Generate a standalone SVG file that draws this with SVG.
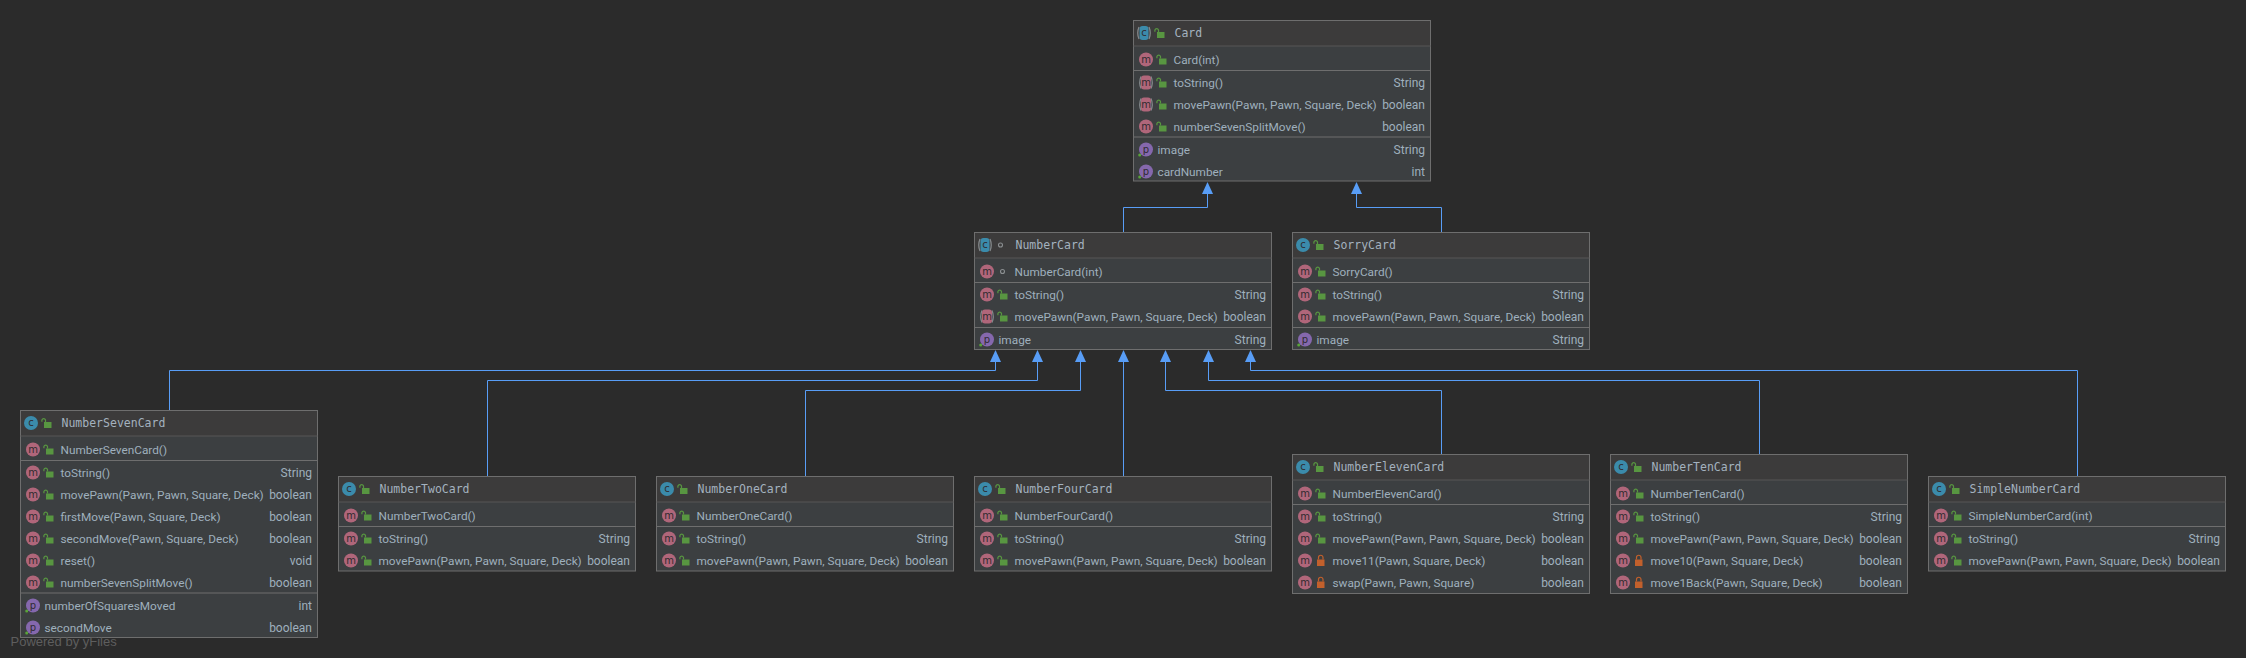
<svg xmlns="http://www.w3.org/2000/svg" width="2246" height="658" viewBox="0 0 2246 658">
<style>
.box{fill:#3c3f41;stroke:#6e6e6e;stroke-width:1}
.hd{fill:#3c3b3b}
.sep{stroke:#6e6e6e;stroke-width:1;fill:none}
.hs{stroke:#565656;stroke-width:1;fill:none}
.ti{font:11.5px "DejaVu Sans Mono",monospace;fill:#a4b2bf}
.t{font:11.8px Roboto,"Noto Sans",sans-serif;fill:#9fb0bd;transform:translateY(-1px)}
.r{font:12px Roboto,"Noto Sans",sans-serif;fill:#9fb0bd;text-anchor:end;transform:translateY(-1px)}
.ic{font:10px "DejaVu Sans",sans-serif;fill:#2f2b30;text-anchor:middle}
.ln{fill:none;stroke:#589df6;stroke-width:1;marker-end:url(#tri)}
.by{font:13px "Liberation Sans",Arial,sans-serif;fill:#5e5e5e}
use{transform:translateY(-.5px)}
</style>
<defs>
<marker id="tri" markerUnits="userSpaceOnUse" viewBox="0 0 12 11" markerWidth="12" markerHeight="11" refX="0" refY="5.5" orient="auto"><path d="M0 0L12 5.5L0 11z" fill="#589df6"/></marker>
<g id="c"><circle r="7" fill="#3b8bab"/><text class="ic" y="3.2">c</text></g>
<g id="ca"><path d="M-5 -6Q-7.5 0 -5 6M5 -6Q7.5 0 5 6" fill="none" stroke="#83888b" stroke-width="1.3"/><rect x="-4.5" y="-7" width="9" height="14" rx="3" fill="#3b8bab"/><text class="ic" y="3.2">c</text></g>
<g id="m"><circle r="7" fill="#b0667a"/><text class="ic" y="3">m</text></g>
<g id="ma"><path d="M-5 -6Q-7.5 0 -5 6M5 -6Q7.5 0 5 6" fill="none" stroke="#83888b" stroke-width="1.3"/><rect x="-5" y="-7" width="10" height="14" rx="3" fill="#b0667a"/><text class="ic" y="3">m</text></g>
<g id="p"><circle r="7" fill="#8568ad"/><text class="ic" y="3.2">p</text><circle cx="-6.3" cy="5.5" r="1.5" fill="#5aa539"/></g>
<g id="o"><rect x="-2.5" y="-1" width="7.5" height="6" fill="#589641"/><path d="M-1 -1V-3A1.9 1.9 0 0 0 -4.6 -3V-1.2" fill="none" stroke="#589641" stroke-width="1.2"/></g>
<g id="x"><rect x="-3.5" y="-1" width="7.5" height="6.5" fill="#c2602c"/><path d="M-2 -1V-3A2.2 2.2 0 0 1 2.5 -3V-1" fill="none" stroke="#c2602c" stroke-width="1.2"/></g>
<g id="k"><circle r="2" fill="none" stroke="#8b8f91" stroke-width="1.1"/></g>
</defs>
<rect width="2246" height="658" fill="#2b2b2b"/>
<g id="connectors">
<path class="ln" d="M1123.5 232V207.5H1207.5V194"/>
<path class="ln" d="M1441.5 232V207.5H1356.5V194"/>
<path class="ln" d="M169.5 410V370.5H995.5V362"/>
<path class="ln" d="M487.5 476V380.5H1037.5V362"/>
<path class="ln" d="M805.5 476V390.5H1080.5V362"/>
<path class="ln" d="M1123.5 476V362"/>
<path class="ln" d="M1441.5 454V390.5H1165.5V362"/>
<path class="ln" d="M1759.5 454V380.5H1208.5V362"/>
<path class="ln" d="M2077.5 476V370.5H1250.5V362"/>
</g>
<g id="Card" transform="translate(1133.5 20.5)">
<rect class="box" width="297" height="160.5"/><rect class="hd" x=".5" y=".5" width="296" height="25"/><path class="hs" d="M0 25.5H297"/><path class="sep" d="M0 50H297M0 116.5H297"/>
<use href="#ca" x="10.5" y="13"/><use href="#o" x="26" y="13"/><text class="ti" x="41" y="16.5">Card</text>
<use href="#m" x="12.5" y="39.5"/><use href="#o" x="28" y="39.5"/><text class="t" x="40" y="44">Card(int)</text>
<use href="#ma" x="12.5" y="62.5"/><use href="#o" x="28" y="62.5"/><text class="t" x="40" y="67">toString()</text><text class="r" x="291.5" y="67">String</text>
<use href="#ma" x="12.5" y="84.5"/><use href="#o" x="28" y="84.5"/><text class="t" x="40" y="89">movePawn(Pawn, Pawn, Square, Deck)</text><text class="r" x="291.5" y="89">boolean</text>
<use href="#m" x="12.5" y="106.5"/><use href="#o" x="28" y="106.5"/><text class="t" x="40" y="111">numberSevenSplitMove()</text><text class="r" x="291.5" y="111">boolean</text>
<use href="#p" x="12.5" y="129.5"/><text class="t" x="24" y="134">image</text><text class="r" x="291.5" y="134">String</text>
<use href="#p" x="12.5" y="151.5"/><text class="t" x="24" y="156">cardNumber</text><text class="r" x="291.5" y="156">int</text>
</g>
<g id="NumberCard" transform="translate(974.5 232.5)">
<rect class="box" width="297" height="117"/><rect class="hd" x=".5" y=".5" width="296" height="25"/><path class="hs" d="M0 25.5H297"/><path class="sep" d="M0 50H297M0 95H297"/>
<use href="#ca" x="10.5" y="13"/><use href="#k" x="26" y="13"/><text class="ti" x="41" y="16.5">NumberCard</text>
<use href="#m" x="12.5" y="39.5"/><use href="#k" x="28" y="39.5"/><text class="t" x="40" y="44">NumberCard(int)</text>
<use href="#m" x="12.5" y="62.5"/><use href="#o" x="28" y="62.5"/><text class="t" x="40" y="67">toString()</text><text class="r" x="291.5" y="67">String</text>
<use href="#ma" x="12.5" y="84.5"/><use href="#o" x="28" y="84.5"/><text class="t" x="40" y="89">movePawn(Pawn, Pawn, Square, Deck)</text><text class="r" x="291.5" y="89">boolean</text>
<use href="#p" x="12.5" y="107.5"/><text class="t" x="24" y="112">image</text><text class="r" x="291.5" y="112">String</text>
</g>
<g id="SorryCard" transform="translate(1292.5 232.5)">
<rect class="box" width="297" height="117"/><rect class="hd" x=".5" y=".5" width="296" height="25"/><path class="hs" d="M0 25.5H297"/><path class="sep" d="M0 50H297M0 95H297"/>
<use href="#c" x="10.5" y="13"/><use href="#o" x="26" y="13"/><text class="ti" x="41" y="16.5">SorryCard</text>
<use href="#m" x="12.5" y="39.5"/><use href="#o" x="28" y="39.5"/><text class="t" x="40" y="44">SorryCard()</text>
<use href="#m" x="12.5" y="62.5"/><use href="#o" x="28" y="62.5"/><text class="t" x="40" y="67">toString()</text><text class="r" x="291.5" y="67">String</text>
<use href="#m" x="12.5" y="84.5"/><use href="#o" x="28" y="84.5"/><text class="t" x="40" y="89">movePawn(Pawn, Pawn, Square, Deck)</text><text class="r" x="291.5" y="89">boolean</text>
<use href="#p" x="12.5" y="107.5"/><text class="t" x="24" y="112">image</text><text class="r" x="291.5" y="112">String</text>
</g>
<g id="NumberSevenCard" transform="translate(20.5 410.5)">
<rect class="box" width="297" height="227"/><rect class="hd" x=".5" y=".5" width="296" height="25"/><path class="hs" d="M0 25.5H297"/><path class="sep" d="M0 50H297M0 182.5H297"/>
<use href="#c" x="10.5" y="13"/><use href="#o" x="26" y="13"/><text class="ti" x="41" y="16.5">NumberSevenCard</text>
<use href="#m" x="12.5" y="39.5"/><use href="#o" x="28" y="39.5"/><text class="t" x="40" y="44">NumberSevenCard()</text>
<use href="#m" x="12.5" y="62.5"/><use href="#o" x="28" y="62.5"/><text class="t" x="40" y="67">toString()</text><text class="r" x="291.5" y="67">String</text>
<use href="#m" x="12.5" y="84.5"/><use href="#o" x="28" y="84.5"/><text class="t" x="40" y="89">movePawn(Pawn, Pawn, Square, Deck)</text><text class="r" x="291.5" y="89">boolean</text>
<use href="#m" x="12.5" y="106.5"/><use href="#o" x="28" y="106.5"/><text class="t" x="40" y="111">firstMove(Pawn, Square, Deck)</text><text class="r" x="291.5" y="111">boolean</text>
<use href="#m" x="12.5" y="128.5"/><use href="#o" x="28" y="128.5"/><text class="t" x="40" y="133">secondMove(Pawn, Square, Deck)</text><text class="r" x="291.5" y="133">boolean</text>
<use href="#m" x="12.5" y="150.5"/><use href="#o" x="28" y="150.5"/><text class="t" x="40" y="155">reset()</text><text class="r" x="291.5" y="155">void</text>
<use href="#m" x="12.5" y="172.5"/><use href="#o" x="28" y="172.5"/><text class="t" x="40" y="177">numberSevenSplitMove()</text><text class="r" x="291.5" y="177">boolean</text>
<use href="#p" x="12.5" y="195.5"/><text class="t" x="24" y="200">numberOfSquaresMoved</text><text class="r" x="291.5" y="200">int</text>
<use href="#p" x="12.5" y="217.5"/><text class="t" x="24" y="222">secondMove</text><text class="r" x="291.5" y="222">boolean</text>
</g>
<g id="NumberTwoCard" transform="translate(338.5 476.5)">
<rect class="box" width="297" height="94.5"/><rect class="hd" x=".5" y=".5" width="296" height="25"/><path class="hs" d="M0 25.5H297"/><path class="sep" d="M0 50H297"/>
<use href="#c" x="10.5" y="13"/><use href="#o" x="26" y="13"/><text class="ti" x="41" y="16.5">NumberTwoCard</text>
<use href="#m" x="12.5" y="39.5"/><use href="#o" x="28" y="39.5"/><text class="t" x="40" y="44">NumberTwoCard()</text>
<use href="#m" x="12.5" y="62.5"/><use href="#o" x="28" y="62.5"/><text class="t" x="40" y="67">toString()</text><text class="r" x="291.5" y="67">String</text>
<use href="#m" x="12.5" y="84.5"/><use href="#o" x="28" y="84.5"/><text class="t" x="40" y="89">movePawn(Pawn, Pawn, Square, Deck)</text><text class="r" x="291.5" y="89">boolean</text>
</g>
<g id="NumberOneCard" transform="translate(656.5 476.5)">
<rect class="box" width="297" height="94.5"/><rect class="hd" x=".5" y=".5" width="296" height="25"/><path class="hs" d="M0 25.5H297"/><path class="sep" d="M0 50H297"/>
<use href="#c" x="10.5" y="13"/><use href="#o" x="26" y="13"/><text class="ti" x="41" y="16.5">NumberOneCard</text>
<use href="#m" x="12.5" y="39.5"/><use href="#o" x="28" y="39.5"/><text class="t" x="40" y="44">NumberOneCard()</text>
<use href="#m" x="12.5" y="62.5"/><use href="#o" x="28" y="62.5"/><text class="t" x="40" y="67">toString()</text><text class="r" x="291.5" y="67">String</text>
<use href="#m" x="12.5" y="84.5"/><use href="#o" x="28" y="84.5"/><text class="t" x="40" y="89">movePawn(Pawn, Pawn, Square, Deck)</text><text class="r" x="291.5" y="89">boolean</text>
</g>
<g id="NumberFourCard" transform="translate(974.5 476.5)">
<rect class="box" width="297" height="94.5"/><rect class="hd" x=".5" y=".5" width="296" height="25"/><path class="hs" d="M0 25.5H297"/><path class="sep" d="M0 50H297"/>
<use href="#c" x="10.5" y="13"/><use href="#o" x="26" y="13"/><text class="ti" x="41" y="16.5">NumberFourCard</text>
<use href="#m" x="12.5" y="39.5"/><use href="#o" x="28" y="39.5"/><text class="t" x="40" y="44">NumberFourCard()</text>
<use href="#m" x="12.5" y="62.5"/><use href="#o" x="28" y="62.5"/><text class="t" x="40" y="67">toString()</text><text class="r" x="291.5" y="67">String</text>
<use href="#m" x="12.5" y="84.5"/><use href="#o" x="28" y="84.5"/><text class="t" x="40" y="89">movePawn(Pawn, Pawn, Square, Deck)</text><text class="r" x="291.5" y="89">boolean</text>
</g>
<g id="NumberElevenCard" transform="translate(1292.5 454.5)">
<rect class="box" width="297" height="139"/><rect class="hd" x=".5" y=".5" width="296" height="25"/><path class="hs" d="M0 25.5H297"/><path class="sep" d="M0 50H297"/>
<use href="#c" x="10.5" y="13"/><use href="#o" x="26" y="13"/><text class="ti" x="41" y="16.5">NumberElevenCard</text>
<use href="#m" x="12.5" y="39.5"/><use href="#o" x="28" y="39.5"/><text class="t" x="40" y="44">NumberElevenCard()</text>
<use href="#m" x="12.5" y="62.5"/><use href="#o" x="28" y="62.5"/><text class="t" x="40" y="67">toString()</text><text class="r" x="291.5" y="67">String</text>
<use href="#m" x="12.5" y="84.5"/><use href="#o" x="28" y="84.5"/><text class="t" x="40" y="89">movePawn(Pawn, Pawn, Square, Deck)</text><text class="r" x="291.5" y="89">boolean</text>
<use href="#m" x="12.5" y="106.5"/><use href="#x" x="28" y="106.5"/><text class="t" x="40" y="111">move11(Pawn, Square, Deck)</text><text class="r" x="291.5" y="111">boolean</text>
<use href="#m" x="12.5" y="128.5"/><use href="#x" x="28" y="128.5"/><text class="t" x="40" y="133">swap(Pawn, Pawn, Square)</text><text class="r" x="291.5" y="133">boolean</text>
</g>
<g id="NumberTenCard" transform="translate(1610.5 454.5)">
<rect class="box" width="297" height="139"/><rect class="hd" x=".5" y=".5" width="296" height="25"/><path class="hs" d="M0 25.5H297"/><path class="sep" d="M0 50H297"/>
<use href="#c" x="10.5" y="13"/><use href="#o" x="26" y="13"/><text class="ti" x="41" y="16.5">NumberTenCard</text>
<use href="#m" x="12.5" y="39.5"/><use href="#o" x="28" y="39.5"/><text class="t" x="40" y="44">NumberTenCard()</text>
<use href="#m" x="12.5" y="62.5"/><use href="#o" x="28" y="62.5"/><text class="t" x="40" y="67">toString()</text><text class="r" x="291.5" y="67">String</text>
<use href="#m" x="12.5" y="84.5"/><use href="#o" x="28" y="84.5"/><text class="t" x="40" y="89">movePawn(Pawn, Pawn, Square, Deck)</text><text class="r" x="291.5" y="89">boolean</text>
<use href="#m" x="12.5" y="106.5"/><use href="#x" x="28" y="106.5"/><text class="t" x="40" y="111">move10(Pawn, Square, Deck)</text><text class="r" x="291.5" y="111">boolean</text>
<use href="#m" x="12.5" y="128.5"/><use href="#x" x="28" y="128.5"/><text class="t" x="40" y="133">move1Back(Pawn, Square, Deck)</text><text class="r" x="291.5" y="133">boolean</text>
</g>
<g id="SimpleNumberCard" transform="translate(1928.5 476.5)">
<rect class="box" width="297" height="94.5"/><rect class="hd" x=".5" y=".5" width="296" height="25"/><path class="hs" d="M0 25.5H297"/><path class="sep" d="M0 50H297"/>
<use href="#c" x="10.5" y="13"/><use href="#o" x="26" y="13"/><text class="ti" x="41" y="16.5">SimpleNumberCard</text>
<use href="#m" x="12.5" y="39.5"/><use href="#o" x="28" y="39.5"/><text class="t" x="40" y="44">SimpleNumberCard(int)</text>
<use href="#m" x="12.5" y="62.5"/><use href="#o" x="28" y="62.5"/><text class="t" x="40" y="67">toString()</text><text class="r" x="291.5" y="67">String</text>
<use href="#m" x="12.5" y="84.5"/><use href="#o" x="28" y="84.5"/><text class="t" x="40" y="89">movePawn(Pawn, Pawn, Square, Deck)</text><text class="r" x="291.5" y="89">boolean</text>
</g>
<text class="by" x="10.5" y="646">Powered by yFiles</text>
</svg>
